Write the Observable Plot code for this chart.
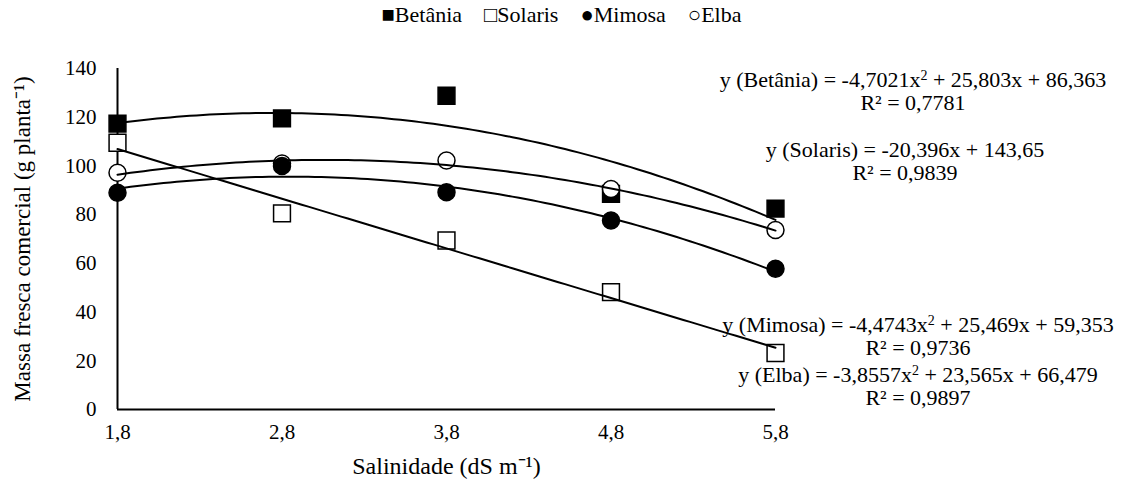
<!DOCTYPE html>
<html>
<head>
<meta charset="utf-8">
<script src="https://cdn.jsdelivr.net/npm/d3@7"></script>
<script src="https://cdn.jsdelivr.net/npm/@observablehq/plot@0.6"></script>
<style>
  html, body { margin: 0; padding: 0; background: #fff; }
  body { width: 1123px; height: 479px; position: relative; overflow: hidden; font-family: "Liberation Serif", "Times New Roman", serif; color: #000; }
  #legend { height: 30px; display: flex; justify-content: center; align-items: center; font-size: 22px; padding-left: 0px; }
  #legend span { margin: 0 11px; white-space: nowrap; }
  .eq { position: absolute; font-size: 22px; text-align: center; white-space: nowrap; transform: translateX(-50%); }
  .eq div { height: 23px; line-height: 23px; }
  .eq sup { font-size: 14px; line-height: 0; vertical-align: 7px; }
  svg text { font-family: "Liberation Serif", "Times New Roman", serif; }
</style>
</head>
<body>
<div id="legend"></div>
<div id="chart"></div>
<script>
// ---- data ----
const salinity = [1.8, 2.8, 3.8, 4.8, 5.8];
const seriesNames = ["Betânia", "Solaris", "Mimosa", "Elba"];
const betania = [117.4, 119.5, 128.8, 88.5, 82.5];
const solaris = [109.5, 80.5, 69.4, 48.2, 23.2];
const mimosa = [89.0, 100.0, 89.2, 77.6, 57.8];
const elba = [97.2, 101.0, 102.2, 90.5, 73.7];
// regression coefficients shown in the chart: y = a x^2 + b x + c
const coefA = [-4.7021, 0, -4.4743, -3.8557];
const coefB = [25.803, -20.396, 25.469, 23.565];
const coefC = [86.363, 143.65, 59.353, 66.479];
const r2Labels = ["0,7781", "0,9839", "0,9736", "0,9897"];
const eqLabels = [
  "y (Betânia) = -4,7021x<sup>2</sup> + 25,803x + 86,363",
  "y (Solaris) = -20,396x + 143,65",
  "y (Mimosa) = -4,4743x<sup>2</sup> + 25,469x + 59,353",
  "y (Elba) = -3,8557x<sup>2</sup> + 23,565x + 66,479"
];
const yTicks = [0, 20, 40, 60, 80, 100, 120, 140];
const xTicks = [1.8, 2.8, 3.8, 4.8, 5.8];
const legendGlyphs = ["■", "□", "●", "○"];

// ---- styling ----
const serif = "Liberation Serif, Times New Roman, serif";
const symbols = ["square", "square", "circle", "circle"];
const fills = ["black", "white", "black", "white"];
const radii = [9.5, 9.5, 8.5, 8.5];
const drawOrder = [0, 1, 3, 2];

const values = [betania, solaris, mimosa, elba];
const seriesData = values.map((vals, si) => salinity.map((x, i) => ({series: seriesNames[si], x, y: vals[i]})));

const xs = d3.range(0, 101).map(i => 1.8 + 4 * i / 100);
const curves = [];
seriesNames.forEach((name, si) => {
  xs.forEach(x => curves.push({series: name, x, y: coefA[si] * x * x + coefB[si] * x + coefC[si]}));
});

const fmt = d => d.toFixed(1).replace(".", ",");

const chart = Plot.plot({
  width: 1123,
  height: 449,
  marginTop: 38,
  marginBottom: 70,
  marginLeft: 117,
  marginRight: 348,
  style: {fontFamily: serif, fontSize: "21px", color: "black", background: "white"},
  x: {domain: [1.8, 5.8]},
  y: {domain: [0, 140]},
  marks: [
    Plot.axisX({ticks: xTicks, tickFormat: fmt, tickSize: 0, tickPadding: 15, fontSize: 21, fontFamily: serif,
      label: null}),
    Plot.axisX({ticks: [], tickSize: 0, fontSize: 24, fontFamily: serif,
      label: "Salinidade (dS m⁻¹)", labelAnchor: "center", labelOffset: 64, labelArrow: "none"}),
    Plot.axisY({ticks: yTicks, tickSize: 0, tickPadding: 21, fontSize: 21, fontFamily: serif, label: null}),
    Plot.axisY({ticks: [], tickSize: 0, fontSize: 23, fontFamily: serif,
      label: "Massa fresca comercial (g planta⁻¹)", labelAnchor: "center", labelOffset: 104, labelArrow: "none"}),
    Plot.ruleX([1.8], {stroke: "black", strokeWidth: 2, y1: 0, y2: 140}),
    Plot.ruleY([0], {stroke: "black", strokeWidth: 2, x1: 1.8, x2: 5.8}),
    ...drawOrder.map(si => Plot.dot(seriesData[si], {x: "x", y: "y", symbol: symbols[si], fill: fills[si],
      stroke: "black", strokeWidth: 1.5, r: radii[si]})),
    Plot.line(curves, {x: "x", y: "y", z: "series", stroke: "black", strokeWidth: 2, curve: "linear"})
  ]
});
chart.style.display = "block";
document.getElementById("chart").appendChild(chart);

// legend
const legend = document.getElementById("legend");
seriesNames.forEach((n, i) => {
  const s = document.createElement("span");
  s.textContent = legendGlyphs[i] + n;
  legend.appendChild(s);
});

// equations
const eqPos = [[913, 68], [905, 138], [918, 313], [918, 363]];
seriesNames.forEach((n, i) => {
  const d = document.createElement("div");
  d.className = "eq";
  d.style.left = eqPos[i][0] + "px";
  d.style.top = eqPos[i][1] + "px";
  d.innerHTML = "<div>" + eqLabels[i] + "</div><div>R² = " + r2Labels[i] + "</div>";
  document.body.appendChild(d);
});
</script>
</body>
</html>
